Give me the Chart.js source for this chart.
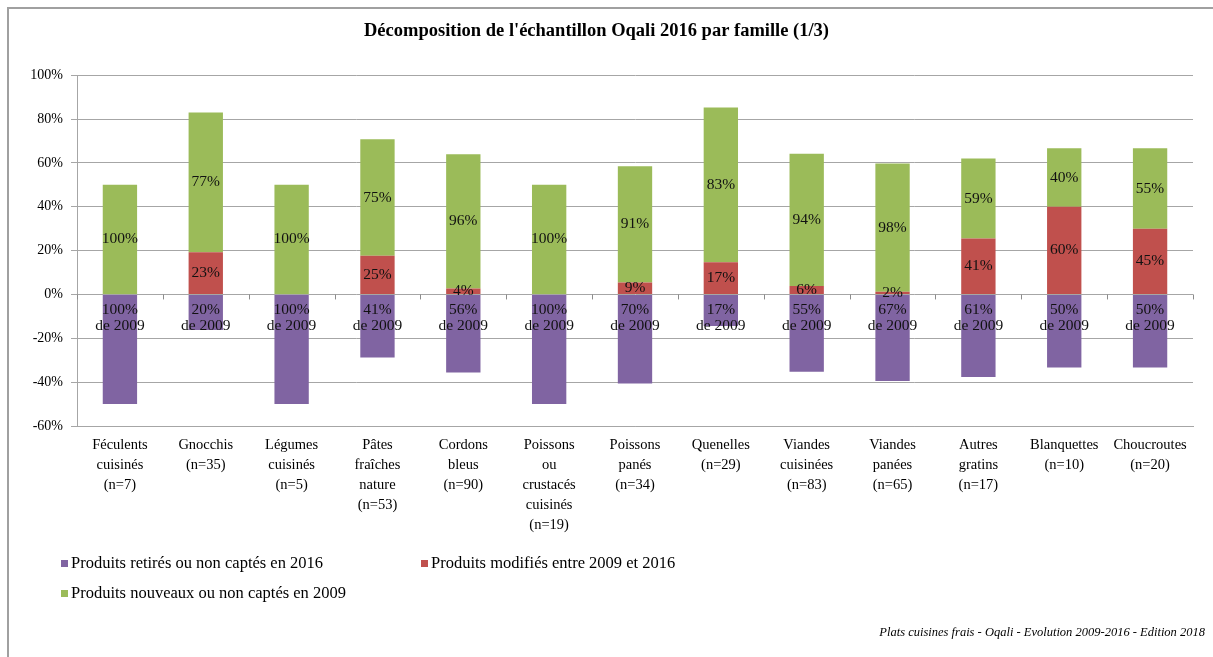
<!DOCTYPE html>
<html>
<head>
<meta charset="utf-8">
<script src="https://cdn.jsdelivr.net/npm/chart.js@4/dist/chart.umd.min.js"></script>
<style>
    body { margin: 0; background: #fff; }
    #wrap { position: relative; width: 1213px; height: 657px; }
    #frame { position: absolute; left: 7px; top: 7px; right: 0; bottom: 0;
        border-left: 2px solid #a0a0a0; border-top: 2px solid #a0a0a0; pointer-events: none; }
    .legendItem { position: absolute; font: 16.5px "Liberation Serif", serif; color: #000; white-space: nowrap; }
    .legendItem span { display: inline-block; width: 7px; height: 7px; margin-right: 3px; vertical-align: 1px; }
    #source { position: absolute; right: 8px; top: 625px; font: italic 12.5px "Liberation Serif", serif; color: #000; }
</style>
</head>
<body>
<div id="wrap">
    <canvas id="chart" width="1213" height="657"></canvas>
    <div id="frame"></div>
    <div id="legend"></div>
    <div id="source">Plats cuisines frais - Oqali - Evolution 2009-2016 - Edition 2018</div>
</div>
<script>
let categories = [
    ['Féculents', 'cuisinés', '(n=7)'],
    ['Gnocchis', '(n=35)'],
    ['Légumes', 'cuisinés', '(n=5)'],
    ['Pâtes', 'fraîches', 'nature', '(n=53)'],
    ['Cordons', 'bleus', '(n=90)'],
    ['Poissons', 'ou', 'crustacés', 'cuisinés', '(n=19)'],
    ['Poissons', 'panés', '(n=34)'],
    ['Quenelles', '(n=29)'],
    ['Viandes', 'cuisinées', '(n=83)'],
    ['Viandes', 'panées', '(n=65)'],
    ['Autres', 'gratins', '(n=17)'],
    ['Blanquettes', '(n=10)'],
    ['Choucroutes', '(n=20)']
];

let seriesNames = [
    'Produits retirés ou non captés en 2016',
    'Produits modifiés entre 2009 et 2016',
    'Produits nouveaux ou non captés en 2009'
];
let seriesColors = ['#8064A2', '#C0504D', '#9BBB59'];

// bar heights in % of the y axis
let retires = [-50, -16.2, -50, -28.8, -35.6, -50, -40.6, -14.4, -35.2, -39.5, -37.6, -33.3, -33.3];
let modifies = [0, 19.2, 0, 17.7, 2.7, 0, 5.4, 14.7, 3.8, 1.2, 25.5, 40, 30];
let nouveaux = [50, 63.8, 50, 53.1, 61.3, 50, 53.1, 70.6, 60.4, 58.5, 36.5, 26.7, 36.7];

// texts printed inside the bars
let retiresLabels = ['100%', '20%', '100%', '41%', '56%', '100%', '70%', '17%', '55%', '67%', '61%', '50%', '50%'];
let modifiesLabels = ['', '23%', '', '25%', '4%', '', '9%', '17%', '6%', '2%', '41%', '60%', '45%'];
let nouveauxLabels = ['100%', '77%', '100%', '75%', '96%', '100%', '91%', '83%', '94%', '98%', '59%', '40%', '55%'];

let yTicks = [-60, -40, -20, 0, 20, 40, 60, 80, 100];

let serif = '"Liberation Serif", serif';
let gridGray = '#a6a6a6';

let barLabels = {
    id: 'barLabels',
    afterDatasetsDraw(chart) {
        let ctx = chart.ctx;
        ctx.save();
        ctx.font = '15.5px ' + serif;
        ctx.fillStyle = '#111';
        ctx.textAlign = 'center';
        ctx.textBaseline = 'middle';
        let texts = [retiresLabels, modifiesLabels, nouveauxLabels];
        chart.data.datasets.forEach(function (ds, d) {
            chart.getDatasetMeta(d).data.forEach(function (bar, i) {
                let t = texts[d][i];
                if (!t) return;
                if (d === 0) {
                    ctx.fillText(t, bar.x, bar.base + 15);
                    ctx.fillText('de 2009', bar.x, bar.base + 31);
                } else {
                    ctx.fillText(t, bar.x, (bar.y + bar.base) / 2);
                }
            });
        });
        ctx.restore();
    }
};

// zero line with the little category ticks under it
let zeroAxis = {
    id: 'zeroAxis',
    beforeDatasetsDraw(chart) {
        let ctx = chart.ctx;
        let x = chart.scales.x, y = chart.scales.y;
        let y0 = y.getPixelForValue(0);
        let step = x.getPixelForValue(1) - x.getPixelForValue(0);
        ctx.save();
        ctx.strokeStyle = '#8c8c8c';
        ctx.lineWidth = 1;
        ctx.beginPath();
        for (let i = 0; i <= categories.length; i++) {
            let px = Math.round(x.getPixelForValue(0) - step / 2 + i * step) + 0.5;
            ctx.moveTo(px, y0);
            ctx.lineTo(px, y0 + 5);
        }
        ctx.stroke();
        ctx.restore();
    }
};

let chart = new Chart(document.getElementById('chart'), {
    type: 'bar',
    data: {
        labels: categories,
        datasets: [
            { label: seriesNames[0], data: retires, backgroundColor: seriesColors[0] },
            { label: seriesNames[1], data: modifies, backgroundColor: seriesColors[1] },
            { label: seriesNames[2], data: nouveaux, backgroundColor: seriesColors[2] }
        ]
    },
    options: {
        responsive: false,
        animation: false,
        layout: { padding: { top: 8, left: 0, right: 20, bottom: 0 } },
        datasets: { bar: { categoryPercentage: 0.4, barPercentage: 1 } },
        plugins: {
            legend: { display: false },
            tooltip: { enabled: false },
            title: {
                display: true,
                text: "Décomposition de l'échantillon Oqali 2016 par famille (1/3)",
                font: { family: serif, size: 18.5, weight: 'bold' },
                color: '#000',
                padding: { top: 12, bottom: 33 }
            }
        },
        scales: {
            x: {
                stacked: true,
                grid: { display: false },
                border: { color: gridGray },
                ticks: {
                    font: { family: serif, size: 14.5, lineHeight: 1.38 },
                    color: '#000',
                    maxRotation: 0,
                    autoSkip: false,
                    padding: 1
                },
                afterFit(scale) { scale.height = 231; }
            },
            y: {
                stacked: true,
                min: -60,
                max: 100,
                afterBuildTicks(scale) { scale.ticks = yTicks.map(v => ({ value: v })); },
                grid: { color: gridGray, tickLength: 6 },
                border: { color: gridGray },
                ticks: {
                    font: { family: serif, size: 14 },
                    color: '#000',
                    padding: 8,
                    callback: v => v + '%'
                },
                afterFit(scale) { scale.width = 77; }
            }
        }
    },
    plugins: [zeroAxis, barLabels]
});

let legendPos = [[61, 553], [421, 553], [61, 583]];
let legendDiv = document.getElementById('legend');
seriesNames.forEach(function (name, i) {
    let item = document.createElement('div');
    item.className = 'legendItem';
    item.style.left = legendPos[i][0] + 'px';
    item.style.top = legendPos[i][1] + 'px';
    item.innerHTML = '<span style="background:' + seriesColors[i] + '"></span>' + name;
    legendDiv.appendChild(item);
});
</script>
</body>
</html>
